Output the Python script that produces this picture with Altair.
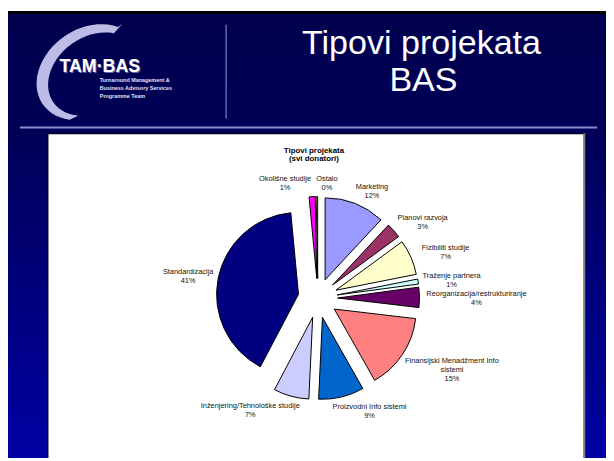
import math
import altair as alt
import pandas as pd

# ---- data ----
categories = [
    "Marketing",
    "Planovi razvoja",
    "Fizibiliti studije",
    "Traženje partnera",
    "Reorganizacija/restrukturiranje",
    "Finansijski Menadžment Info\nsistemi",
    "Proizvodni Info sistemi",
    "Inženjering/Tehnološke studije",
    "Standardizacija",
    "Okolišne studije",
    "Ostalo",
]
values = [12, 3, 7, 1, 4, 15, 9, 7, 41, 1.2, 0.3]
colors = ["#9999FF", "#993366", "#FFFFCC", "#CCFFFF", "#660066", "#FF8080",
          "#0066CC", "#CCCCFF", "#000080", "#FF00FF", "#FFFF00"]

slide_title = ["Tipovi projekata", "BAS"]
chart_title = ["Tipovi projekata", "(svi donatori)"]
logo_name = "TAM·BAS"
logo_lines = ["Turnaround Management &", "Business Advisory Services", "Programme Team"]

# ---- layout ----
W, H = 606, 453
CX, CY = 314, 291          # pie centre
R, E = 83, 20              # radius, explosion
D0, LH, CW = 108, 9, 3.4   # label distance, line height, char width
FONT = "Liberation Sans"

df = pd.DataFrame({"name": categories, "value": values,
                   "order": list(range(len(categories)))})
one = pd.DataFrame({"k": [0]})


def deco():
    return alt.Chart(one)


# ---- logo swoosh outline (decoration, built as a symbol path) ----
def _ell(cx, cy, a, b, rot, t):
    r, t = math.radians(rot), math.radians(t)
    ux, uy = math.cos(r), math.sin(r)
    vx, vy = -math.sin(r), math.cos(r)
    return (cx + a * math.cos(t) * ux + b * math.sin(t) * vx,
            cy + a * math.cos(t) * uy + b * math.sin(t) * vy)


_SC, _SX, _SY = 50.0, 80.0, 70.0   # symbol scale and centre (slide pixels)
_pts = [(124.0, 21.0)]
_pts += [_ell(90, 70, 57, 44, -35, t) for t in range(-28, -226, -6)]
_pts += [_ell(95, 72, 50, 38, -35, t) for t in range(-222, -35, 6)]
swoosh_path = "M " + " L ".join(
    f"{(px - _SX) / _SC:.3f} {(py - _SY) / _SC:.3f}" for px, py in _pts) + " Z"

bg = deco().mark_rect(
    fill=alt.Gradient(
        gradient="linear",
        stops=[alt.GradientStop(color="#00004e", offset=0),
               alt.GradientStop(color="#000058", offset=0.28),
               alt.GradientStop(color="#0000a4", offset=1)],
        x1=0, x2=0, y1=0, y2=1)
).encode(x=alt.value(0), x2=alt.value(W), y=alt.value(0), y2=alt.value(H))

topbar = deco().mark_rect(fill="#000000").encode(
    x=alt.value(0), x2=alt.value(W), y=alt.value(0), y2=alt.value(3))

hline = deco().mark_rule(color="#8a8acc", strokeWidth=2).encode(
    x=alt.value(12), x2=alt.value(597), y=alt.value(118))
vline = deco().mark_rule(color="#9a9ad6", strokeWidth=1).encode(
    x=alt.value(221), y=alt.value(14), y2=alt.value(109))

t1 = deco().mark_text(text=slide_title[0], font=FONT, fontSize=34.5, color="white",
                      align="center", baseline="alphabetic").encode(
    x=alt.value(419), y=alt.value(44))
t2 = deco().mark_text(text=slide_title[1], font=FONT, fontSize=34.5, color="white",
                      align="center", baseline="alphabetic").encode(
    x=alt.value(421), y=alt.value(81))

swoosh = deco().mark_point(shape=swoosh_path, size=(2 * _SC) ** 2, filled=True,
                           fill="#bcbce6", opacity=1, strokeWidth=0).encode(
    x=alt.value(_SX - 8), y=alt.value(_SY - 8))
logo_shadow = deco().mark_text(text=logo_name, font=FONT, fontSize=18, fontWeight="bold",
                               color="#6a6aa8", align="center", baseline="alphabetic").encode(
    x=alt.value(94), y=alt.value(63))
logo = deco().mark_text(text=logo_name, font=FONT, fontSize=18, fontWeight="bold",
                        color="white", align="center", baseline="alphabetic").encode(
    x=alt.value(93), y=alt.value(62))
logo_small = [
    deco().mark_text(text=txt, font=FONT, fontSize=5.5, fontWeight="bold", color="#e0e0f8",
                     align="left", baseline="middle").encode(
        x=alt.value(93), y=alt.value(70 + 8 * i))
    for i, txt in enumerate(logo_lines)
]

box_border = deco().mark_rect(fill="#000000").encode(
    x=alt.value(40), x2=alt.value(583), y=alt.value(124), y2=alt.value(H))
box_shade = deco().mark_rect(fill="#808080").encode(
    x=alt.value(583), x2=alt.value(585), y=alt.value(124), y2=alt.value(H))
box = deco().mark_rect(fill="#ffffff").encode(
    x=alt.value(41), x2=alt.value(583), y=alt.value(125), y2=alt.value(H))

ct1 = deco().mark_text(text=chart_title[0], font=FONT, fontSize=8, fontWeight="bold",
                       color="black", align="center", baseline="middle").encode(
    x=alt.value(310), y=alt.value(142))
ct2 = deco().mark_text(text=chart_title[1], font=FONT, fontSize=8, fontWeight="bold",
                       color="black", align="center", baseline="middle").encode(
    x=alt.value(310), y=alt.value(150))

base = alt.Chart(df).transform_joinaggregate(
    total="sum(value)"
).transform_window(
    cum="sum(value)", sort=[alt.SortField("order", order="ascending")], frame=[None, 0]
).transform_calculate(
    f0="(datum.cum - datum.value) / datum.total",
    f1="datum.cum / datum.total",
    mid="PI * (2 * datum.cum - datum.value) / datum.total",
).transform_calculate(
    s="sin(datum.mid)",
    c="cos(datum.mid)",
    pct="round(100 * datum.value / datum.total)",
).transform_calculate(
    px=f"{CX} + {E} * datum.s",
    py=f"{CY} - {E} * datum.c",
    label="datum.name + '\\n' + datum.pct + '%'",
    first="indexof(datum.name, '\\n') >= 0 ? indexof(datum.name, '\\n') : length(datum.name)",
    nl="indexof(datum.name, '\\n') >= 0 ? 3 : 2",
    # best-fit style side: near the top the label goes beside its slice
    f="abs(datum.s) < 0.1 ? (datum.s < -0.02 ? -1 : 1) : clamp(3 * datum.s, -1, 1)",
).transform_calculate(
    lx=f"{CX} + {D0} * datum.s + datum.f * datum.first * {CW} / 2",
    ly=f"{CY} - {D0} * datum.c - datum.c * datum.nl * {LH} / 2 - 3.5",
)

arcs = base.mark_arc(radius=R, stroke="black", strokeWidth=1).encode(
    theta=alt.Theta("f0:Q", stack=None,
                    scale=alt.Scale(domain=[0, 1], range=[0, 2 * math.pi])),
    theta2=alt.Theta2("f1:Q"),
    x=alt.X("px:Q", scale=None),
    y=alt.Y("py:Q", scale=None),
    color=alt.Color("name:N", scale=alt.Scale(domain=categories, range=colors), legend=None),
)

labels = base.mark_text(font=FONT, fontSize=7.5, lineBreak="\n", lineHeight=LH,
                        align="center", baseline="middle", color="#111111").encode(
    x=alt.X("lx:Q", scale=None),
    y=alt.Y("ly:Q", scale=None),
    text="label:N",
)

chart = alt.layer(
    bg, topbar, hline, vline, t1, t2, swoosh, logo_shadow, logo, *logo_small,
    box_border, box_shade, box, ct1, ct2, arcs, labels
).properties(
    width=W, height=H, padding=0, autosize="none", background="white"
).configure_view(stroke=None)

chart.save("out.html", embed_options={"renderer": "svg", "actions": False})
